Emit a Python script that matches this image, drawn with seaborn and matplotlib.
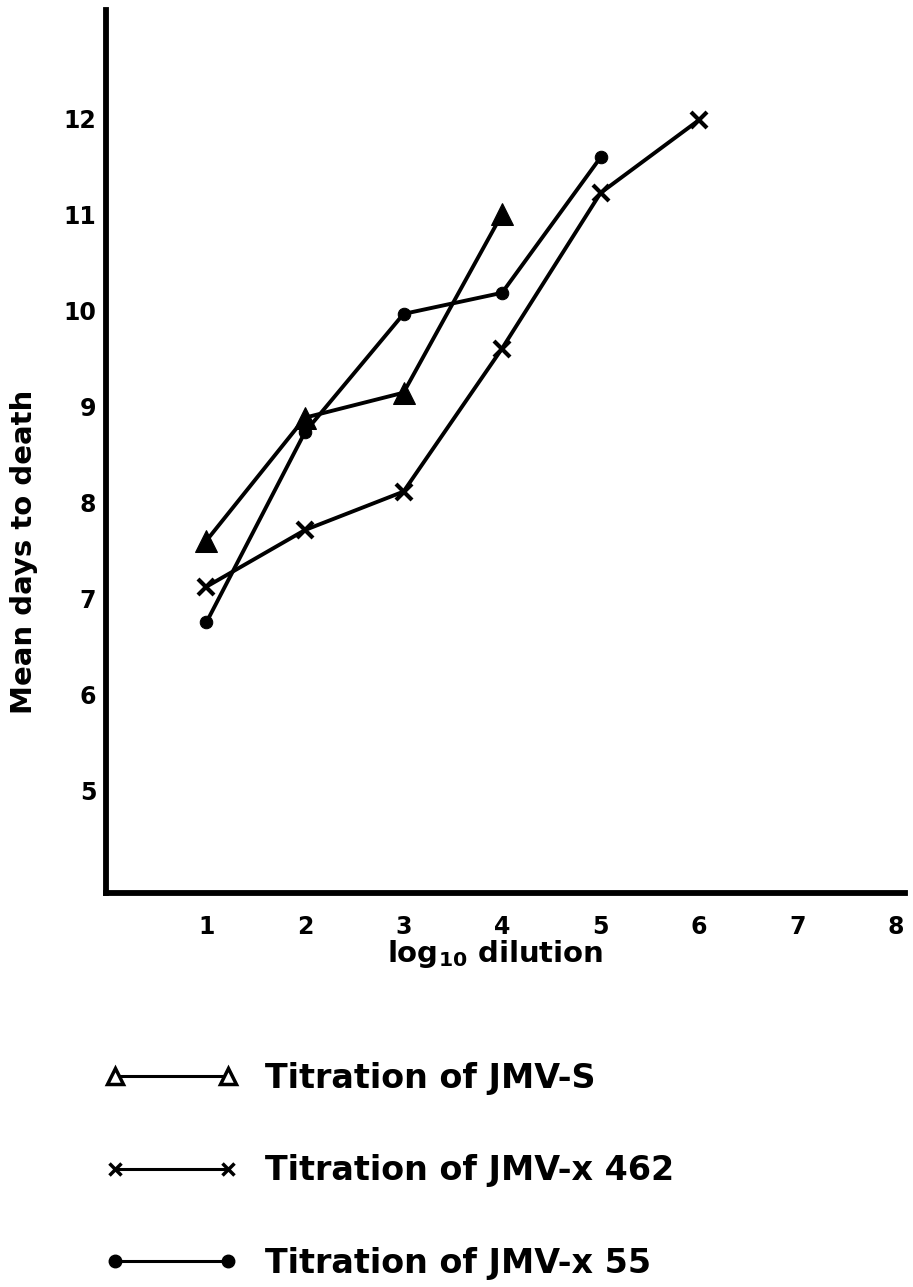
import matplotlib
matplotlib.use("Agg")
import matplotlib.pyplot as plt
import seaborn as sns
import pandas as pd
from matplotlib.lines import Line2D

# ---- data ----
dilution_s = [1, 2, 3, 4]
days_s = [7.6, 8.88, 9.14, 11.0]

dilution_462 = [1, 2, 3, 4, 5, 6]
days_462 = [7.12, 7.71, 8.11, 9.6, 11.22, 11.98]

dilution_55 = [1, 2, 3, 4, 5]
days_55 = [6.75, 8.73, 9.96, 10.18, 11.59]

x_ticks = [1, 2, 3, 4, 5, 6, 7, 8]
y_ticks = [5, 6, 7, 8, 9, 10, 11, 12]

labels = ["Titration of JMV-S", "Titration of JMV-x 462", "Titration of JMV-x 55"]

sns.set_theme(style="white")
plt.rcParams['font.family'] = ['DejaVu Sans']
plt.rcParams['mathtext.fontset'] = 'dejavusans'
for k in ['text.color', 'axes.labelcolor', 'xtick.color', 'ytick.color']:
    plt.rcParams[k] = 'black'

fig = plt.figure(figsize=(9.13, 12.87), dpi=100)
ax = fig.add_axes([106/913, 1 - 893/1287, (905-106)/913, (893-10)/1287])

lw = 2.8
sns.lineplot(x=dilution_s, y=days_s, ax=ax, color='black', linewidth=lw,
             marker='^', markersize=16, markeredgecolor='black', markerfacecolor='black')
sns.lineplot(x=dilution_462, y=days_462, ax=ax, color='black', linewidth=lw,
             marker='x', markersize=11, markeredgewidth=3, markeredgecolor='black')
sns.lineplot(x=dilution_55, y=days_55, ax=ax, color='black', linewidth=lw,
             marker='o', markersize=9, markeredgecolor='black', markerfacecolor='black')

ax.set_xlim(-0.02, 8.09)
ax.set_ylim(3.93, 13.125)
ax.set_xticks(x_ticks)
ax.set_yticks(y_ticks)
ax.set_xticklabels([str(v) for v in x_ticks], fontsize=17, fontweight='bold')
ax.set_yticklabels([str(v) for v in y_ticks], fontsize=17, fontweight='bold')
ax.tick_params(axis='y', length=0, pad=7)
ax.tick_params(axis='x', length=0, pad=16)
ax.set_xticks([2.88], minor=True)
ax.tick_params(axis='x', which='minor', length=9, width=2, direction='in', color='black')

for s in ['top', 'right']:
    ax.spines[s].set_visible(False)
for s in ['left', 'bottom']:
    ax.spines[s].set_color('black')
    ax.spines[s].set_linewidth(4.2)
ax.grid(False)

ax.set_ylabel("Mean days to death", fontsize=21, fontweight='bold')
ax.yaxis.set_label_coords((38 - 106) / 799, (893 - 552) / 883)
ax.set_xlabel(r"log$_{\mathbf{10}}$ dilution", fontsize=21, fontweight='bold')
ax.xaxis.set_label_coords((495 - 106) / 799, -(938 - 893) / 883)

handles = [
    Line2D([0], [0], color='black', linewidth=2.2, marker='^', markersize=11,
           markerfacecolor='white', markeredgecolor='black', markeredgewidth=2.5),
    Line2D([0], [0], color='black', linewidth=2.2, marker='x', markersize=9,
           markeredgewidth=2.5, markeredgecolor='black'),
    Line2D([0], [0], color='black', linewidth=2.2, marker='o', markersize=9,
           markerfacecolor='black', markeredgecolor='black'),
]
leg = fig.legend(handles, labels, loc='upper left', bbox_to_anchor=(105/913, 1 - 1062/1287),
                 frameon=False, numpoints=2, handlelength=4.0, handletextpad=0.8,
                 labelspacing=1.78, borderpad=0, borderaxespad=0,
                 prop={'weight': 'bold', 'size': 24})

fig.savefig("out.png", dpi=100, facecolor='white')
